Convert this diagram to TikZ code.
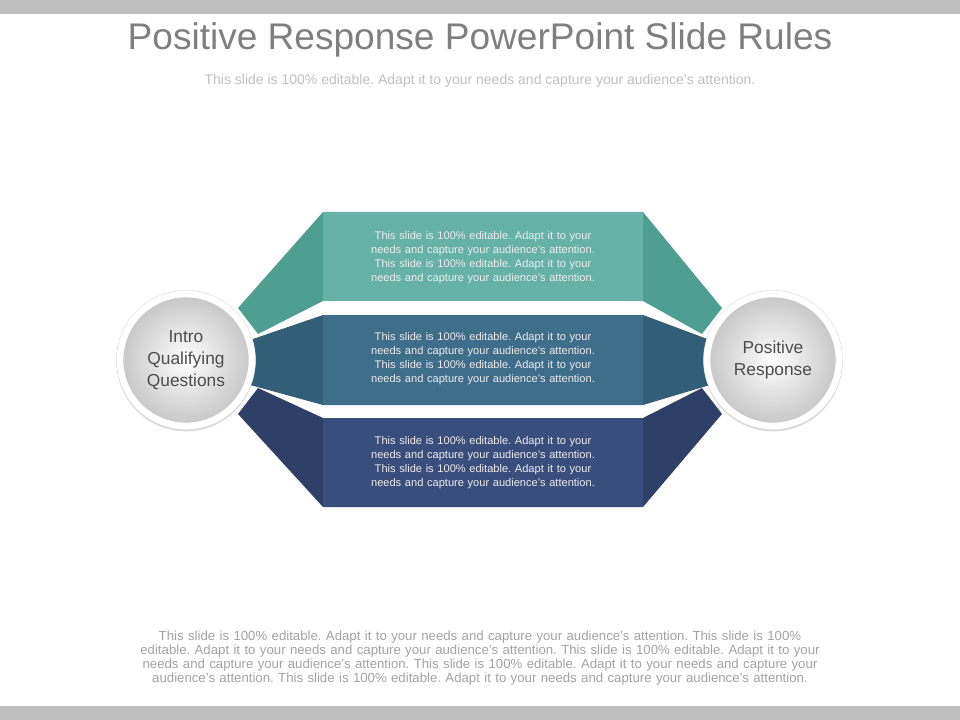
\documentclass[tikz,border=0pt]{standalone}
\usepackage{fontspec}
\setmainfont{Liberation Sans}
\usetikzlibrary{shadows}
\definecolor{tealA}{HTML}{66B2A6}
\definecolor{tealB}{HTML}{4E9E92}
\definecolor{blueA}{HTML}{3F6E8B}
\definecolor{blueB}{HTML}{335E77}
\definecolor{navyA}{HTML}{3A4E7D}
\definecolor{navyB}{HTML}{2E3F68}
\definecolor{barGrey}{HTML}{BFBFBF}
\definecolor{txtGrey}{HTML}{7F7F7F}
\frenchspacing
\hyphenpenalty=10000
\newcommand{\filler}{This slide is 100\% editable. Adapt it to your needs and capture your audience's attention. This slide is 100\% editable. Adapt it to your needs and capture your audience's attention.}
\begin{document}
\begin{tikzpicture}
  [x=0.75pt,y=-0.75pt,
   bandtext/.style={text=white!85!gray,font=\fontsize{8.3}{10.5}\selectfont,align=center,text width=214pt},
   hub/.style={circle,draw=white,line width=5pt,minimum size=99pt,inner color=white,outer color=gray!45,
     font=\fontsize{13}{16.5}\selectfont,text=black!70,align=center},
   ring/.style={circle,fill=white,draw=gray!35,line width=.6pt,minimum size=104pt,
     drop shadow={shadow xshift=0pt,shadow yshift=-1.5pt,opacity=.3}}]
  \useasboundingbox (0,0) rectangle (960,720);
  \fill[barGrey] (0,0) rectangle (960,14);
  \fill[barGrey] (0,706) rectangle (960,720);

  \node (title) at (480,40) {\fontsize{27.8}{32}\selectfont\color{txtGrey}Positive Response PowerPoint Slide Rules};
  \node (sub) at (480,81) {\fontsize{10.5}{12}\selectfont\color{barGrey}This slide is 100\% editable. Adapt it to your needs and capture your audience's attention.};

  % wings
  \fill[tealB] (323,212) -- (238,308) -- (258,334) -- (323,301) -- (643,301) -- (702,334) -- (722,308) -- (643,212) -- cycle;
  \fill[blueB] (323,315) -- (250,340) -- (250,385) -- (323,405) -- (643,405) -- (710,385) -- (710,340) -- (643,315) -- cycle;
  \fill[navyB] (323,418) -- (258,388) -- (238,414) -- (323,507) -- (643,507) -- (722,414) -- (702,388) -- (643,418) -- cycle;
  % bands
  \fill[tealA] (323,212) rectangle (643,301);
  \fill[blueA] (323,315) rectangle (643,405);
  \fill[navyA] (323,418) rectangle (643,507);
  \node[bandtext] (t1) at (483,258) {\filler};
  \node[bandtext] (t2) at (483,359) {\filler};
  \node[bandtext] (t3) at (483,463) {\filler};

  \node[ring] (introring) at (186,360) {};
  \node[ring] (respring) at (773,360) {};
  \node[hub] (intro) at (186,360) {Intro\\Qualifying\\Questions};
  \node[hub] (resp) at (773,360) {Positive\\Response};

  \node[text width=672pt,align=center,text=barGrey!85!black,font=\fontsize{9.9}{10.7}\selectfont] (foot) at (480,658)
    {This slide is 100\% editable. Adapt it to your needs and capture your audience's attention. This slide is 100\% editable. Adapt it to your needs and capture your audience's attention. This slide is 100\% editable. Adapt it to your needs and capture your audience's attention. This slide is 100\% editable. Adapt it to your needs and capture your audience's attention. This slide is 100\% editable. Adapt it to your needs and capture your audience's attention.};
\end{tikzpicture}
\end{document}
